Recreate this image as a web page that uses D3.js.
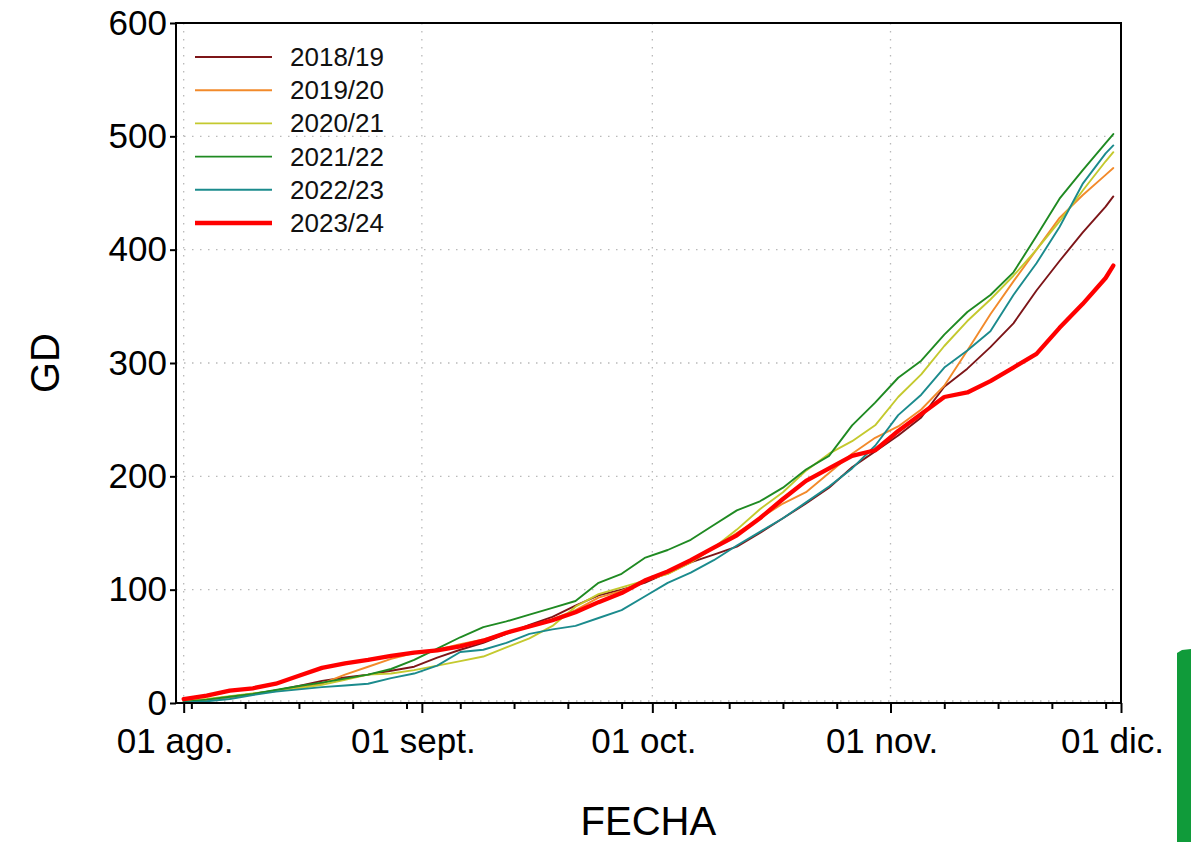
<!DOCTYPE html>
<html lang="es">
<head>
<meta charset="utf-8">
<script src="https://cdn.jsdelivr.net/npm/d3@7"></script>
<style>
  html, body { margin: 0; padding: 0; background: #ffffff; }
  svg { display: block; font-family: "Liberation Sans", Arial, Helvetica, sans-serif; }
</style>
</head>
<body>
<svg id="chart" width="1191" height="842"></svg>
<script>
// Días transcurridos desde el 1 de agosto (muestreo cada 3 días)
const dias = [0, 3, 6, 9, 12, 15, 18, 21, 24, 27, 30, 33, 36, 39, 42, 45, 48, 51, 54, 57,
  60, 63, 66, 69, 72, 75, 78, 81, 84, 87, 90, 93, 96, 99, 102, 105, 108, 111, 114, 117, 120, 121];

// Grados-día acumulados por temporada
const gd2018 = [1.5, 3, 5.5, 8, 11, 15, 19.5, 22.5, 25, 28.5, 32, 40, 47, 53, 61, 69, 76, 86, 95, 100,
  106, 115, 124, 131, 138, 150, 163, 176, 190, 208, 222, 236, 252, 279, 295, 314, 335, 364, 390, 415, 438, 447];
const gd2019 = [1, 3, 5, 7.5, 11, 13.5, 17, 25, 32, 39, 44, 47, 52, 56, 62, 67, 74, 82, 93, 99,
  108, 114, 124, 137, 150, 163, 176, 186, 203, 220, 234, 244, 259, 280, 311, 343, 372, 400, 428, 448, 466, 472];
const gd2020 = [1.5, 3.5, 6, 8.5, 10.5, 13, 16, 20.5, 25, 26, 29, 33, 37, 41, 49, 57, 68, 85, 96, 102,
  108, 114, 124, 137, 153, 171, 186, 205, 220, 231, 245, 270, 290, 315, 337, 356, 377, 400, 425, 452, 478, 486];
const gd2021 = [1, 3, 5.5, 8, 11.5, 15, 18, 21.5, 25, 30, 38, 48, 58, 67, 72, 78, 84, 90, 106, 114,
  128, 135, 144, 157, 170, 178, 190, 206, 218, 245, 265, 287, 302, 325, 345, 360, 380, 412, 445, 470, 494, 502];
const gd2022 = [0.5, 1.5, 3.5, 7, 10, 12, 14, 15.5, 17, 22, 26, 33, 45, 47, 53, 61, 65, 68, 75, 82,
  94, 106, 115, 126, 139, 151, 163, 177, 191, 207, 227, 254, 272, 296, 311, 328, 360, 388, 420, 458, 485, 492];
const gd2023 = [3.5, 6.5, 11, 13, 17, 24, 31, 35, 38, 41.5, 44.5, 46.5, 50, 55, 62, 67.5, 73, 80, 89, 97,
  108, 116, 126, 137, 148, 163, 180, 196, 207, 218, 223, 240, 255, 270, 274, 284, 296, 308, 331, 352, 375, 386];

const temporadas = ["2018/19", "2019/20", "2020/21", "2021/22", "2022/23", "2023/24"];
const colores = ["#7d1518", "#f28a2b", "#c4c92e", "#1f8a22", "#1b8b8d", "#ff0000"];
const grosores = [1.9, 1.9, 1.9, 1.9, 1.9, 4.3];

const etiquetasMes = ["01 ago.", "01 sept.", "01 oct.", "01 nov.", "01 dic."];
const ticksY = [0, 100, 200, 300, 400, 500, 600];

const series = [gd2018, gd2019, gd2020, gd2021, gd2022, gd2023];

const svg = d3.select("#chart");
const margin = { top: 23, right: 70, bottom: 139, left: 176 };
const W = 1191 - margin.left - margin.right;
const H = 842 - margin.top - margin.bottom;

// Eje temporal de referencia: del 31 de julio al 1 de diciembre
const base = new Date(2023, 7, 1);
const fecha = d => d3.timeDay.offset(base, d);
const x = d3.scaleTime()
  .domain([new Date(2023, 6, 31), new Date(2023, 11, 1)])
  .range([0, W]);
const y = d3.scaleLinear().domain([0, 600]).range([H, 0]);

const g = svg.append("g").attr("transform", `translate(${margin.left},${margin.top})`);

const meses = d3.timeMonth.range(new Date(2023, 7, 1), new Date(2023, 11, 2));

// Rejilla punteada
const grid = g.append("g").attr("stroke", "#b9b9b9").attr("stroke-width", 1.3)
  .attr("stroke-dasharray", "1.5,6.5");
grid.selectAll("line.h").data(ticksY).join("line")
  .attr("x1", 0).attr("x2", W)
  .attr("y1", d => y(d) - 2).attr("y2", d => y(d) - 2)
  .attr("transform", d => d === 0 ? null : "translate(0,2)");
grid.selectAll("line.v").data(meses).join("line")
  .attr("x1", d => x(d)).attr("x2", d => x(d))
  .attr("y1", 0).attr("y2", H);

// Curvas por temporada
const linea = d3.line()
  .x((d, i) => x(fecha(dias[i])))
  .y(d => y(d));

g.append("g").selectAll("path").data(series).join("path")
  .attr("d", d => linea(d))
  .attr("fill", "none")
  .attr("stroke", (d, i) => colores[i])
  .attr("stroke-width", (d, i) => grosores[i])
  .attr("stroke-linejoin", "round")
  .attr("stroke-linecap", "round");

// Marco del gráfico
g.append("rect").attr("x", 0).attr("y", 0).attr("width", W).attr("height", H)
  .attr("fill", "none").attr("stroke", "#000").attr("stroke-width", 2);

// Eje X: meses (ticks largos) y semanas (ticks cortos)
const ejeX = g.append("g").attr("transform", `translate(0,${H})`);
ejeX.call(d3.axisBottom(x)
  .tickValues(d3.timeWednesday.range(new Date(2023, 7, 1), new Date(2023, 11, 1)))
  .tickSize(6).tickFormat(""));
ejeX.call(s => s.select(".domain").remove());
const ejeXMes = g.append("g").attr("transform", `translate(0,${H})`);
ejeXMes.call(d3.axisBottom(x)
  .tickValues(meses)
  .tickSize(10).tickPadding(15)
  .tickFormat((d, i) => etiquetasMes[i]));
ejeXMes.select(".domain").remove();
g.selectAll(".tick line").attr("stroke", "#000").attr("stroke-width", 2);
ejeXMes.selectAll("text")
  .attr("font-size", 35).attr("fill", "#000").attr("dx", -9)
  .style("font-family", "'Liberation Sans', Arial, sans-serif");

// Eje Y
const ejeY = g.append("g");
ejeY.call(d3.axisLeft(y).tickValues(ticksY).tickSize(6).tickPadding(3));
ejeY.select(".domain").remove();
ejeY.selectAll(".tick line").attr("stroke", "#000").attr("stroke-width", 2);
ejeY.selectAll("text")
  .attr("font-size", 35).attr("fill", "#000")
  .style("font-family", "'Liberation Sans', Arial, sans-serif");

// Títulos de los ejes
svg.append("text")
  .attr("x", margin.left + x(new Date(2023, 9, 1)) - 4).attr("y", 835)
  .attr("text-anchor", "middle").attr("font-size", 40).attr("fill", "#000")
  .text("FECHA");
svg.append("text")
  .attr("transform", `translate(59,${margin.top + y(300)}) rotate(-90)`)
  .attr("text-anchor", "middle").attr("font-size", 40).attr("fill", "#000")
  .text("GD");

// Leyenda
const leyenda = g.append("g").attr("transform", "translate(19,34)");
const fila = leyenda.selectAll("g").data(temporadas).join("g")
  .attr("transform", (d, i) => `translate(0,${i * 33.2})`);
fila.append("line")
  .attr("x1", 0).attr("x2", 77).attr("y1", 0).attr("y2", 0)
  .attr("stroke", (d, i) => colores[i])
  .attr("stroke-width", (d, i) => grosores[i]);
fila.append("text")
  .attr("x", 95).attr("y", 9)
  .attr("font-size", 26).attr("fill", "#111")
  .text(d => d);

// Franja verde decorativa del borde derecho
svg.append("path")
  .attr("d", "M1177,653 L1182,650 L1191,649 L1191,842 L1177,842 Z")
  .attr("fill", "#109b3a");
</script>
</body>
</html>
